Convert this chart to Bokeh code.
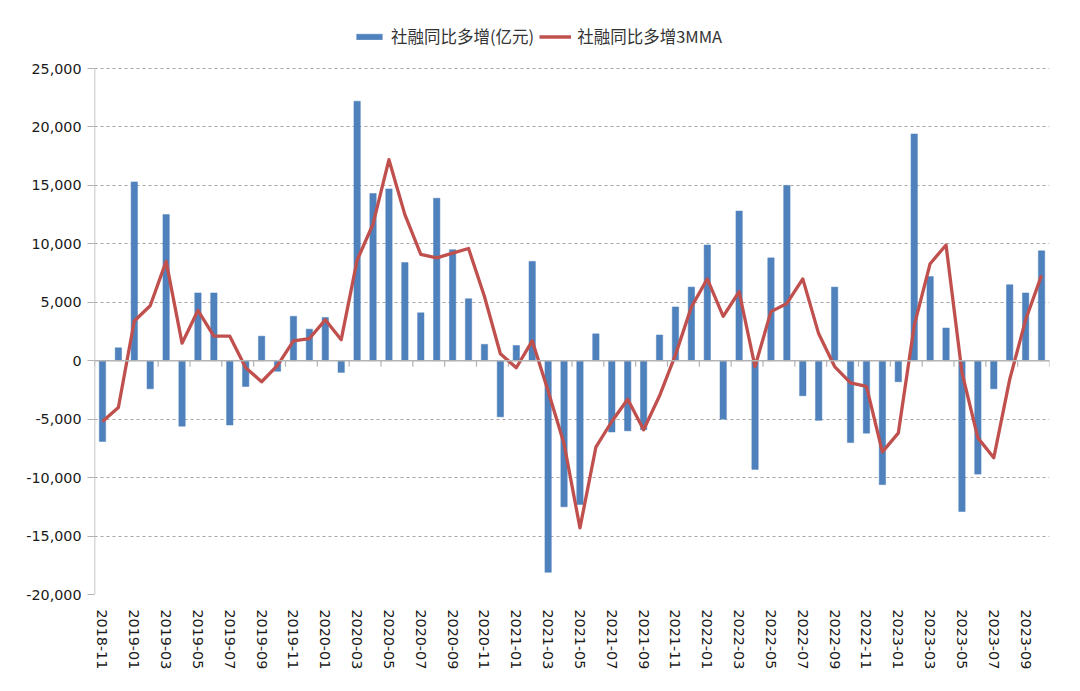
from bokeh.plotting import figure
from bokeh.models import (Range1d, FixedTicker, NumeralTickFormatter, Span, Legend, LegendItem,
                          ColumnDataSource)
from bokeh.embed import file_html
from bokeh.resources import INLINE

months = [
    "2018-11", "2018-12",
    "2019-01", "2019-02", "2019-03", "2019-04", "2019-05", "2019-06",
    "2019-07", "2019-08", "2019-09", "2019-10", "2019-11", "2019-12",
    "2020-01", "2020-02", "2020-03", "2020-04", "2020-05", "2020-06",
    "2020-07", "2020-08", "2020-09", "2020-10", "2020-11", "2020-12",
    "2021-01", "2021-02", "2021-03", "2021-04", "2021-05", "2021-06",
    "2021-07", "2021-08", "2021-09", "2021-10", "2021-11", "2021-12",
    "2022-01", "2022-02", "2022-03", "2022-04", "2022-05", "2022-06",
    "2022-07", "2022-08", "2022-09", "2022-10", "2022-11", "2022-12",
    "2023-01", "2023-02", "2023-03", "2023-04", "2023-05", "2023-06",
    "2023-07", "2023-08", "2023-09", "2023-10",
]

yoy_increase = [
    -6900, 1100,
    15300, -2400, 12500, -5600, 5800, 5800,
    -5500, -2200, 2100, -900, 3800, 2700,
    3700, -1000, 22200, 14300, 14700, 8400,
    4100, 13900, 9500, 5300, 1400, -4800,
    1300, 8500, -18100, -12500, -12300, 2300,
    -6100, -6000, -5900, 2200, 4600, 6300,
    9900, -5000, 12800, -9300, 8800, 15000,
    -3000, -5100, 6300, -7000, -6200, -10600,
    -1800, 19400, 7200, 2800, -12900, -9700,
    -2400, 6500, 5800, 9400,
]

mma3 = [
    -5200, -4000,
    3400, 4700, 8500, 1500, 4300, 2100,
    2100, -600, -1800, -400, 1700, 1900,
    3500, 1800, 8600, 11700, 17200, 12500,
    9100, 8800, 9200, 9600, 5500, 600,
    -600, 1700, -2600, -7100, -14300, -7400,
    -5200, -3300, -5900, -3000, 500, 4600,
    7000, 3800, 5900, -500, 4200, 4900,
    7000, 2300, -500, -1900, -2200, -7800,
    -6200, 3000, 8300, 9900, -1000, -6600,
    -8300, -1600, 3500, 7300,
]

y_ticks = [-20000, -15000, -10000, -5000, 0, 5000, 10000, 15000, 20000, 25000]

label_bar = "社融同比多增(亿元)"
label_line = "社融同比多增3MMA"

BLUE = "#4F81BD"
RED = "#C0504D"
AXIS_GRAY = "#b3b3b3"
TEXT_FONT = "DejaVu Sans"

n = len(months)
xc = [i + 0.5 for i in range(n)]
src = ColumnDataSource(dict(x=xc, bar=yoy_increase, line=mma3, month=months))

# plot area: 526 px for the value span, plus 44 px headroom for the legend
span_px, head_px = 526, 44
y_lo, y_hi = y_ticks[0], y_ticks[-1]
y_top = y_lo + (y_hi - y_lo) * (span_px + head_px) / span_px

p = figure(
    frame_width=955, frame_height=span_px + head_px,
    min_border_left=94, min_border_right=15, min_border_top=24, min_border_bottom=81,
    x_range=Range1d(0, n), y_range=Range1d(y_lo, y_top),
    output_backend="svg", toolbar_location=None,
)
p.outline_line_color = None
p.background_fill_color = "white"
p.border_fill_color = "white"

# gridlines
p.xgrid.grid_line_color = None
p.ygrid.grid_line_color = "#a6a6a6"
p.ygrid.grid_line_dash = "3 3"
p.ygrid.grid_line_width = 1

# y axis (its line drawn only over the value span)
p.yaxis.ticker = FixedTicker(ticks=y_ticks)
p.yaxis.formatter = NumeralTickFormatter(format="0,0")
p.yaxis.axis_line_color = None
p.yaxis.major_tick_line_color = AXIS_GRAY
p.yaxis.major_tick_out = 7
p.yaxis.major_tick_in = 0
p.yaxis.minor_tick_line_color = None
p.yaxis.major_label_text_font = TEXT_FONT
p.yaxis.major_label_text_font_size = "14.3px"
p.yaxis.major_label_text_color = "#1a1a1a"
p.yaxis.major_label_standoff = 6
p.segment(x0=[0], x1=[0], y0=[y_lo], y1=[y_hi], line_color=AXIS_GRAY, line_width=1.5)

# x axis: labels only, every other month
label_pos = [xc[i] for i in range(0, n, 2)]
p.xaxis.ticker = FixedTicker(ticks=label_pos)
p.xaxis.major_label_overrides = {xc[i]: months[i] for i in range(0, n, 2)}
p.xaxis.major_label_orientation = "vertical"
p.xaxis.axis_line_color = None
p.xaxis.major_tick_line_color = None
p.xaxis.minor_tick_line_color = None
p.xaxis.major_label_text_font = TEXT_FONT
p.xaxis.major_label_text_font_size = "14.3px"
p.xaxis.major_label_text_color = "#1a1a1a"
p.xaxis.major_label_standoff = 9

# bars
bars = p.vbar(x="x", top="bar", bottom=0, width=0.4, source=src,
              fill_color=BLUE, line_color=BLUE, line_width=0.5)

# zero line with category ticks every two months
p.add_layout(Span(location=0, dimension="width", line_color=AXIS_GRAY, line_width=1.5))
tick_x = list(range(0, n + 1, 2))
tick_len = (y_hi - y_lo) / span_px * 6
p.segment(x0=tick_x, x1=tick_x, y0=[0] * len(tick_x), y1=[-tick_len] * len(tick_x),
          line_color=AXIS_GRAY, line_width=1.2)

# 3MMA line
line = p.line(x="x", y="line", source=src, line_color=RED, line_width=3.3,
              line_join="round")

legend = Legend(
    items=[LegendItem(label=label_bar, renderers=[bars]),
           LegendItem(label=label_line, renderers=[line])],
    orientation="horizontal",
    location=(259, span_px + 20),
    glyph_width=32, glyph_height=7,
    label_text_font="Noto Sans CJK SC", label_text_font_size="16.5px",
    label_text_color="#333333",
    label_standoff=6, spacing=5, padding=0, margin=0,
    background_fill_alpha=0, border_line_color=None,
    label_height=20,
)
p.add_layout(legend)

open("out.html", "w").write(file_html(p, INLINE))
